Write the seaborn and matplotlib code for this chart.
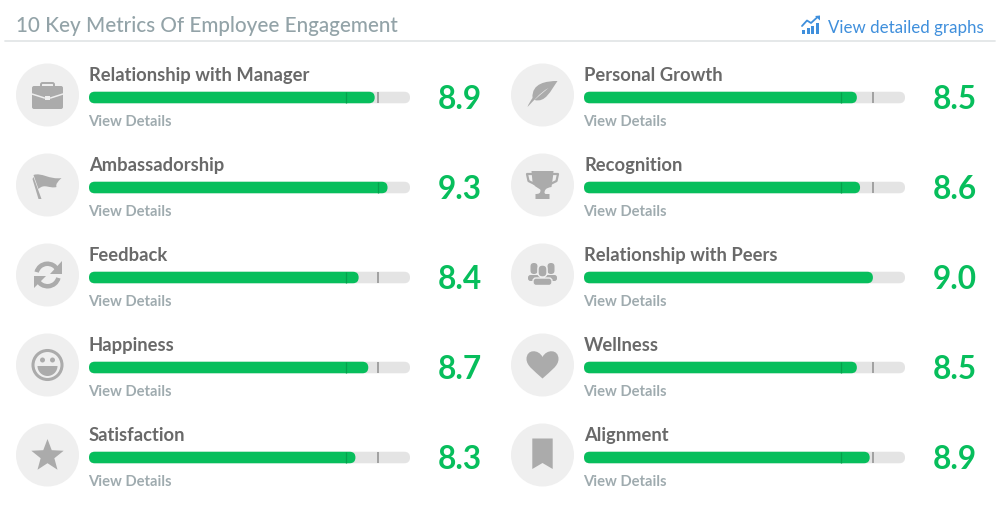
import numpy as np
import pandas as pd
import matplotlib
matplotlib.use("Agg")
import matplotlib.pyplot as plt
import seaborn as sns
from matplotlib.patches import Circle, FancyBboxPatch, Polygon, Rectangle, Wedge, PathPatch
from matplotlib.path import Path

left_metrics = ["Relationship with Manager", "Ambassadorship", "Feedback", "Happiness", "Satisfaction"]
left_scores = [8.9, 9.3, 8.4, 8.7, 8.3]
right_metrics = ["Personal Growth", "Recognition", "Relationship with Peers", "Wellness", "Alignment"]
right_scores = [8.5, 8.6, 9.0, 8.5, 8.9]
scale_max = [10, 10, 10, 10, 10]
inner_mark = 8.0
benchmark = 9.0

GREEN = "#07BE5C"
DARK_GREEN = "#05A04C"
TRACK = "#E4E4E4"
CIRCLE = "#EFEFEF"
ICON = "#ABABAB"
BLUE = "#3F8FDC"
W, H = 1000, 513

sns.set_theme(style="white")
plt.rcParams["font.family"] = ["Lato", "DejaVu Sans"]

fig = plt.figure(figsize=(W / 100, H / 100), dpi=100)
bg = fig.add_axes([0, 0, 1, 1])
bg.set_xlim(0, W)
bg.set_ylim(H, 0)
bg.axis("off")


def pill_bars(ax, metrics, values, color, zorder):
    # seaborn draws the bars, then they get swapped for pill shapes
    n_old = len(ax.patches)
    df = pd.DataFrame({"metric": metrics, "score": values})
    sns.barplot(df, x="score", y="metric", color=color, width=0.128, saturation=1, ax=ax)
    for p in list(ax.patches)[n_old:]:
        x, y, w, h = p.get_x(), p.get_y(), p.get_width(), p.get_height()
        pill = FancyBboxPatch((x, y), w, h, boxstyle="round,pad=0,rounding_size=0.178",
                              mutation_aspect=0.357, fc=color, ec="none", zorder=zorder)
        p.remove()
        ax.add_patch(pill)


def bar_column(x_px, metrics, scores):
    ax = fig.add_axes([x_px / W, 1 - 502.5 / H, 321 / W, 450 / H])
    ax.patch.set_alpha(0)
    pill_bars(ax, metrics, scale_max, TRACK, 1)
    pill_bars(ax, metrics, scores, GREEN, 2)
    for i, s in enumerate(scores):
        # darker mark inside the bar, grey benchmark tick past its end
        if s < benchmark:
            ax.vlines(inner_mark, i - 0.064, i + 0.064, color=DARK_GREEN, lw=0.9, zorder=3)
            ax.vlines(benchmark, i - 0.064, i + 0.064, color="#8E8E8E", lw=1.1, zorder=3)
        elif s > benchmark:
            ax.vlines(benchmark, i - 0.064, i + 0.064, color=DARK_GREEN, lw=0.9, zorder=3)
    ax.set_xlim(0, 10)
    ax.set_ylim(4.5, -0.5)
    ax.axis("off")
    return ax


bar_column(89, left_metrics, left_scores)
bar_column(584, right_metrics, right_scores)


def poly(pts, color=ICON, **kw):
    bg.add_patch(Polygon(pts, closed=True, fc=color, ec="none", **kw))


def curve(verts, codes, color=ICON):
    bg.add_patch(PathPatch(Path(verts, codes), fc=color, ec="none"))


M, L, C, Z = Path.MOVETO, Path.LINETO, Path.CURVE4, Path.CLOSEPOLY


def briefcase(cx, cy):
    bg.add_patch(FancyBboxPatch((cx - 15.5, cy - 9), 31, 23, boxstyle="round,pad=0,rounding_size=2", fc=ICON, ec="none"))
    bg.add_patch(FancyBboxPatch((cx - 6.5, cy - 12), 13, 5, boxstyle="round,pad=0,rounding_size=1.5", fc="none", ec=ICON, lw=1.4))
    bg.plot([cx - 15.5, cx - 3], [cy - 1, cy + 3], color=CIRCLE, lw=1.1)
    bg.plot([cx + 15.5, cx + 3], [cy - 1, cy + 3], color=CIRCLE, lw=1.1)
    bg.add_patch(Rectangle((cx - 2.5, cy + 1), 5, 4, fc=CIRCLE, ec="none"))


def flag(cx, cy):
    poly([(cx - 14, cy - 8), (cx - 6, cy + 14), (cx - 9, cy + 14), (cx - 15, cy - 6)])
    curve([(cx - 14, cy - 10), (cx - 6, cy - 13), (cx + 2, cy - 5), (cx + 14, cy - 7),
           (cx + 10, cy - 3), (cx + 8, cy - 1), (cx + 9, cy + 2),
           (cx + 2, cy + 4), (cx - 3, cy - 2), (cx - 9, cy + 4), (cx - 14, cy - 10)],
          [M, C, C, C, C, C, C, C, C, C, Z])


def refresh(cx, cy):
    bg.add_patch(Wedge((cx, cy), 13.5, 195, 335, width=4.5, fc=ICON, ec="none"))
    bg.add_patch(Wedge((cx, cy), 13.5, 15, 155, width=4.5, fc=ICON, ec="none"))
    poly([(cx + 14, cy - 14), (cx + 14, cy - 1), (cx + 2, cy - 1)])
    poly([(cx - 14, cy + 13), (cx - 14, cy + 1), (cx - 2, cy + 1)])


def smiley(cx, cy):
    bg.add_patch(Circle((cx, cy), 14.5, fc="none", ec=ICON, lw=2.2))
    bg.add_patch(Circle((cx - 5, cy - 5), 2.5, fc=ICON, ec="none"))
    bg.add_patch(Circle((cx + 5, cy - 5), 2.5, fc=ICON, ec="none"))
    bg.add_patch(Wedge((cx, cy + 1), 10, 0, 180, fc=ICON, ec="none"))


def star(cx, cy):
    ang = np.deg2rad(np.arange(0, 360, 36) - 90)
    rad = np.array([17, 7.2] * 5)
    poly(np.c_[cx + rad * np.cos(ang), cy + 1 + rad * np.sin(ang)])


def leaf(cx, cy):
    curve([(cx + 15, cy - 14), (cx + 4, cy - 14), (cx - 11, cy - 12), (cx - 10, cy + 3),
           (cx - 12, cy + 6), (cx - 14, cy + 9), (cx - 15, cy + 12),
           (cx - 10, cy + 7), (cx - 3, cy - 2), (cx + 6, cy - 7),
           (cx - 1, cy - 1), (cx - 5, cy + 2), (cx - 8, cy + 5),
           (cx + 3, cy + 8), (cx + 8, cy - 4), (cx + 15, cy - 14), (cx + 15, cy - 14)],
          [M, C, C, C, C, C, C, C, C, C, C, C, C, C, C, C, Z])


def trophy(cx, cy):
    curve([(cx - 11, cy - 14), (cx + 11, cy - 14), (cx + 11, cy - 14), (cx + 10, cy - 3),
           (cx + 9, cy + 2), (cx + 3, cy + 3), (cx + 2, cy + 5), (cx + 2, cy + 8),
           (cx + 3, cy + 9), (cx + 7, cy + 9), (cx + 7, cy + 14), (cx - 7, cy + 14),
           (cx - 7, cy + 9), (cx - 3, cy + 9), (cx - 2, cy + 8), (cx - 2, cy + 5),
           (cx - 3, cy + 3), (cx - 9, cy + 2), (cx - 10, cy - 3), (cx - 11, cy - 14)],
          [M, L, C, C, C, C, C, C, L, L, L, L, L, C, C, C, C, C, C, Z])
    for sgn in (-1, 1):
        bg.plot([cx + sgn * 10, cx + sgn * 15.5, cx + sgn * 14, cx + sgn * 8],
                [cy - 11, cy - 11, cy - 4, cy - 1], color=ICON, lw=1.6)


def people(cx, cy):
    for dx in (-8.5, 8.5):
        bg.add_patch(FancyBboxPatch((cx + dx - 3.5, cy - 12), 7, 11, boxstyle="round,pad=0,rounding_size=3.4", fc=ICON, ec="none"))
        bg.add_patch(FancyBboxPatch((cx + dx - 6, cy), 12, 6, boxstyle="round,pad=0,rounding_size=2.5", fc=ICON, ec="none"))
    bg.add_patch(FancyBboxPatch((cx - 4.5, cy - 10), 9, 12, boxstyle="round,pad=0,rounding_size=4.4", fc=ICON, ec=CIRCLE, lw=1))
    bg.add_patch(FancyBboxPatch((cx - 9.5, cy + 3), 19, 7.5, boxstyle="round,pad=0,rounding_size=3", fc=ICON, ec=CIRCLE, lw=1))


def heart(cx, cy):
    curve([(cx, cy + 13.5), (cx - 8, cy + 6), (cx - 16, cy + 1), (cx - 16, cy - 6),
           (cx - 16, cy - 16), (cx - 4, cy - 16), (cx, cy - 8),
           (cx + 4, cy - 16), (cx + 16, cy - 16), (cx + 16, cy - 6),
           (cx + 16, cy + 1), (cx + 8, cy + 6), (cx, cy + 13.5), (cx, cy + 13.5)],
          [M, C, C, C, C, C, C, C, C, C, C, C, C, Z])


def bookmark(cx, cy):
    poly([(cx - 10.2, cy - 16.5), (cx + 10.2, cy - 16.5), (cx + 10.2, cy + 14), (cx, cy + 8), (cx - 10.2, cy + 14)])


left_icons = [briefcase, flag, refresh, smiley, star]
right_icons = [leaf, trophy, people, heart, bookmark]


def text_column(x_icon, x_text, x_value, metrics, scores, icons):
    for i, (name, s, icon) in enumerate(zip(metrics, scores, icons)):
        y = 95 + 90 * i
        bg.add_patch(Circle((x_icon, y), 31.5, fc=CIRCLE, ec="none"))
        icon(x_icon, y)
        bg.text(x_text, y - 19.5, name, fontsize=13.25, fontweight="bold", color="#696969", va="center", ha="left")
        bg.text(x_text - 0.5, y + 26.6, "View Details", fontsize=10.6, fontweight="bold", color="#9FABAF", va="center", ha="left")
        bg.text(x_value, y + 4.4, f"{s:.1f}", fontsize=22.7, fontweight="bold", color=GREEN, va="center", ha="center")


text_column(47.5, 89, 460, left_metrics, left_scores, left_icons)
text_column(542.5, 584, 955, right_metrics, right_scores, right_icons)

# header
bg.text(16, 26, "10 Key Metrics Of Employee Engagement", fontsize=14.85, fontweight="medium", color="#93A3A8", va="center", ha="left")
bg.plot([5, 995], [41, 41], color="#E3E6E7", lw=1.3)
bg.text(984, 27.5, "View detailed graphs", fontsize=12.2, color=BLUE, va="center", ha="right")
for bx, bh in [(802, 4), (806.5, 6), (811, 8), (815.5, 11)]:
    bg.add_patch(Rectangle((bx, 33.5 - bh), 3.2, bh, fc=BLUE, ec="none"))
bg.plot([802, 807, 811, 817], [26, 20.5, 23, 17.5], color=BLUE, lw=1.3)
poly([(820, 15.5), (820, 20.5), (815, 16)], color=BLUE)

fig.savefig("out.png", dpi=100)
